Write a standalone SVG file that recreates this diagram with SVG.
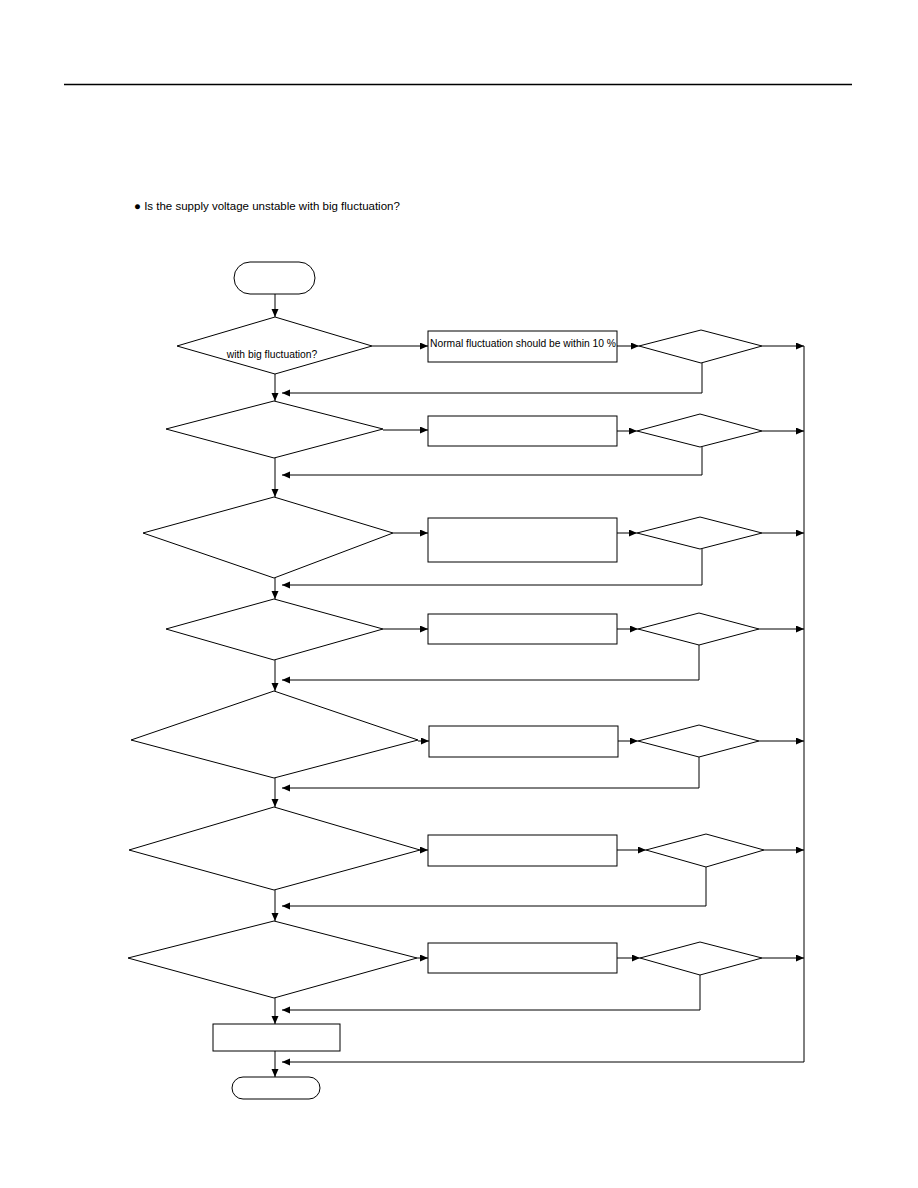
<svg xmlns="http://www.w3.org/2000/svg" width="918" height="1188" viewBox="0 0 918 1188">
<style>
.s{fill:#fff;stroke:#000;stroke-width:1}
.c{fill:none;stroke:#000;stroke-width:1}
.t{font-family:"Liberation Sans",Arial,sans-serif;fill:#000}
</style>
<defs>
<marker id="ah" markerUnits="userSpaceOnUse" markerWidth="9" markerHeight="8" refX="8" refY="3.5" orient="auto">
<path d="M0,0 L8,3.5 L0,7 z" fill="#000"/>
</marker>
</defs>
<rect width="918" height="1188" fill="#fff"/>
<line x1="64" y1="84.5" x2="852" y2="84.5" stroke="#000" stroke-width="1.3"/>
<text class="t" x="134" y="210" font-size="11.5">● Is the supply voltage unstable with big fluctuation?</text>

<g id="connectors">
<line class="c" x1="275" y1="294" x2="275" y2="317" marker-end="url(#ah)"/>
<line class="c" x1="275" y1="374" x2="275" y2="401" marker-end="url(#ah)"/>
<line class="c" x1="275" y1="458" x2="275" y2="497" marker-end="url(#ah)"/>
<line class="c" x1="275" y1="578" x2="275" y2="599" marker-end="url(#ah)"/>
<line class="c" x1="275" y1="660" x2="275" y2="691" marker-end="url(#ah)"/>
<line class="c" x1="275" y1="778" x2="275" y2="807" marker-end="url(#ah)"/>
<line class="c" x1="275" y1="890" x2="275" y2="921" marker-end="url(#ah)"/>
<line class="c" x1="275" y1="998" x2="275" y2="1024" marker-end="url(#ah)"/>
<line class="c" x1="275" y1="1051" x2="275" y2="1077" marker-end="url(#ah)"/>

<line class="c" x1="372" y1="346" x2="428" y2="346" marker-end="url(#ah)"/>
<line class="c" x1="383" y1="430" x2="428" y2="430" marker-end="url(#ah)"/>
<line class="c" x1="393" y1="533" x2="428" y2="533" marker-end="url(#ah)"/>
<line class="c" x1="383" y1="629" x2="428" y2="629" marker-end="url(#ah)"/>
<line class="c" x1="418" y1="741" x2="429" y2="741" marker-end="url(#ah)"/>
<line class="c" x1="420" y1="850" x2="428" y2="850" marker-end="url(#ah)"/>
<line class="c" x1="417" y1="958" x2="428" y2="958" marker-end="url(#ah)"/>

<line class="c" x1="617" y1="346" x2="639" y2="346" marker-end="url(#ah)"/>
<line class="c" x1="617" y1="431" x2="637" y2="431" marker-end="url(#ah)"/>
<line class="c" x1="617" y1="533" x2="637" y2="533" marker-end="url(#ah)"/>
<line class="c" x1="617" y1="629" x2="638" y2="629" marker-end="url(#ah)"/>
<line class="c" x1="618" y1="741" x2="638" y2="741" marker-end="url(#ah)"/>
<line class="c" x1="617" y1="850" x2="646" y2="850" marker-end="url(#ah)"/>
<line class="c" x1="617" y1="958" x2="640" y2="958" marker-end="url(#ah)"/>

<line class="c" x1="762" y1="346" x2="804" y2="346" marker-end="url(#ah)"/>
<line class="c" x1="762" y1="431" x2="804" y2="431" marker-end="url(#ah)"/>
<line class="c" x1="762" y1="533" x2="804" y2="533" marker-end="url(#ah)"/>
<line class="c" x1="759" y1="629" x2="804" y2="629" marker-end="url(#ah)"/>
<line class="c" x1="759" y1="741" x2="804" y2="741" marker-end="url(#ah)"/>
<line class="c" x1="764" y1="850" x2="804" y2="850" marker-end="url(#ah)"/>
<line class="c" x1="762" y1="958" x2="804" y2="958" marker-end="url(#ah)"/>

<polyline class="c" points="702,363 702,393 282,393" marker-end="url(#ah)"/>
<polyline class="c" points="702,447 702,475 282,475" marker-end="url(#ah)"/>
<polyline class="c" points="702,549 702,585 282,585" marker-end="url(#ah)"/>
<polyline class="c" points="699,645 699,680 282,680" marker-end="url(#ah)"/>
<polyline class="c" points="699,757 699,788 282,788" marker-end="url(#ah)"/>
<polyline class="c" points="706,867 706,906 282,906" marker-end="url(#ah)"/>
<polyline class="c" points="700,975 700,1010 282,1010" marker-end="url(#ah)"/>

<polyline class="c" points="804,346 804,1062 282,1062" marker-end="url(#ah)"/>
</g>

<g id="start"><rect class="s" x="234" y="262" width="81" height="32" rx="16"/></g>

<g id="d1"><polygon class="s" points="275,317 372,346 275,374 177,346"/>
<text class="t" x="272" y="358" font-size="10.3" text-anchor="middle">with big fluctuation?</text></g>
<g id="d2"><polygon class="s" points="274,401 383,429 274,458 166,429"/></g>
<g id="d3"><polygon class="s" points="274,497 393,533 274,578 143,533"/></g>
<g id="d4"><polygon class="s" points="274,599 383,629 274,660 166,629"/></g>
<g id="d5"><polygon class="s" points="274,691 418,740 274,778 131,740"/></g>
<g id="d6"><polygon class="s" points="274,807 420,850 274,890 129,850"/></g>
<g id="d7"><polygon class="s" points="274,921 417,958 274,998 128,958"/></g>

<g id="b1"><rect class="s" x="428" y="331" width="189" height="31"/>
<text class="t" x="430" y="347" font-size="10.3">Normal fluctuation should be within 10 %</text></g>
<g id="b2"><rect class="s" x="428" y="416" width="189" height="30"/></g>
<g id="b3"><rect class="s" x="428" y="518" width="189" height="44"/></g>
<g id="b4"><rect class="s" x="428" y="614" width="189" height="30"/></g>
<g id="b5"><rect class="s" x="429" y="726" width="189" height="31"/></g>
<g id="b6"><rect class="s" x="428" y="835" width="189" height="31"/></g>
<g id="b7"><rect class="s" x="428" y="943" width="189" height="30"/></g>

<g id="q1"><polygon class="s" points="701,330 762,346 701,363 639,346"/></g>
<g id="q2"><polygon class="s" points="700,414 762,431 700,447 637,431"/></g>
<g id="q3"><polygon class="s" points="700,517 762,533 700,549 637,533"/></g>
<g id="q4"><polygon class="s" points="699,613 759,629 699,645 638,629"/></g>
<g id="q5"><polygon class="s" points="699,725 759,741 699,757 638,741"/></g>
<g id="q6"><polygon class="s" points="706,834 764,850 706,867 646,850"/></g>
<g id="q7"><polygon class="s" points="700,942 762,958 700,975 640,958"/></g>

<g id="b8"><rect class="s" x="213" y="1024" width="127" height="27"/></g>
<g id="end"><rect class="s" x="232" y="1077" width="88" height="22" rx="11"/></g>
</svg>
